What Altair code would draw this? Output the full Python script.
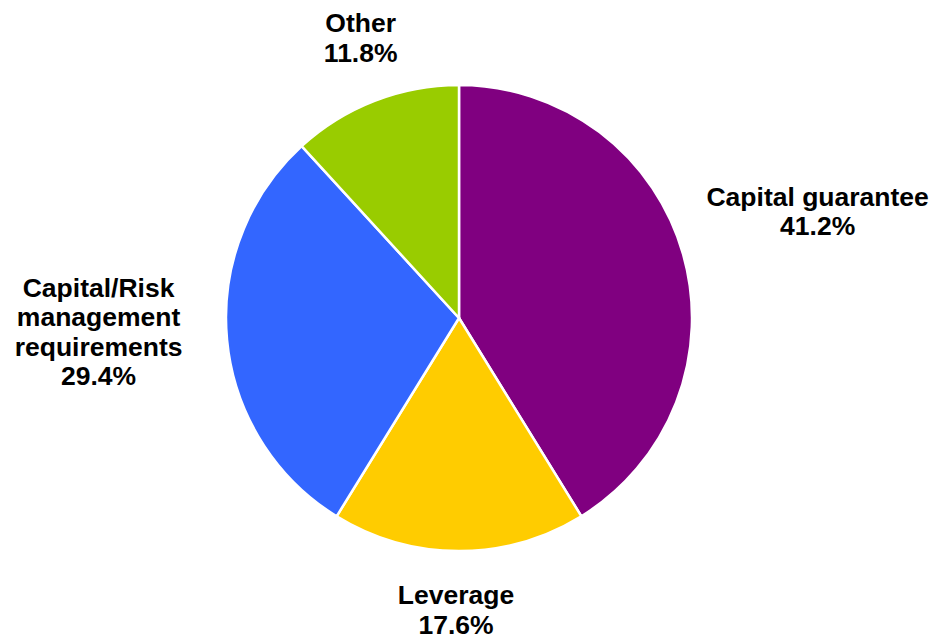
import altair as alt
import pandas as pd

categories = ["Capital guarantee", "Leverage", "Capital/Risk management requirements", "Other"]
display = ["Capital guarantee", "Leverage", "Capital/Risk\nmanagement\nrequirements", "Other"]
values = [41.2, 17.6, 29.4, 11.8]
colors = ["#800080", "#FFCC00", "#3366FF", "#99CC00"]
order = [0, 1, 2, 3]

df = pd.DataFrame({"cat": categories, "disp": display, "value": values, "order": order})

theta_scale = alt.Scale(domain=[0, 100], range=[0, 6.283185307179586])
CX, CY = 459, 318

base = (
    alt.Chart(df)
    .transform_window(cum="sum(value)", sort=[{"field": "order"}], frame=[None, 0])
    .transform_calculate(
        t0="datum.cum - datum.value",
        mid="datum.cum - datum.value / 2",
        label="datum.disp + '\\n' + format(datum.value, '.1f') + '%'",
    )
)

pie = base.mark_arc(stroke="white", strokeWidth=2.5).encode(
    theta=alt.Theta("t0:Q", scale=theta_scale),
    theta2="cum:Q",
    color=alt.Color("cat:N", scale=alt.Scale(domain=categories, range=colors), legend=None),
    radius=alt.value(233),
    x=alt.value(CX),
    y=alt.value(CY),
)

# radius, dx, dy of first line for each label
label_pos = {
    "Capital guarantee": (378, -5, -17),
    "Leverage": (278, -3, 0),
    "Capital/Risk management requirements": (356, -6, -63),
    "Other": (310, 14, -5),
}

layers = [pie]
for c in categories:
    r, dx, dy = label_pos[c]
    layers.append(
        base.transform_filter(alt.datum.cat == c)
        .mark_text(
            font="Liberation Sans",
            fontWeight="bold",
            fontSize=26.5,
            lineHeight=29.5,
            lineBreak="\n",
            align="center",
            baseline="middle",
            color="black",
            dx=dx,
            dy=dy,
        )
        .encode(
            theta=alt.Theta("mid:Q", scale=theta_scale),
            radius=alt.value(r),
            text="label:N",
            x=alt.value(CX),
            y=alt.value(CY),
        )
    )

chart = (
    alt.layer(*layers)
    .properties(width=932, height=640, padding=0, autosize="none", background="white")
    .configure_view(stroke=None)
)

chart.save("out.html", embed_options={"renderer": "svg", "actions": False})
